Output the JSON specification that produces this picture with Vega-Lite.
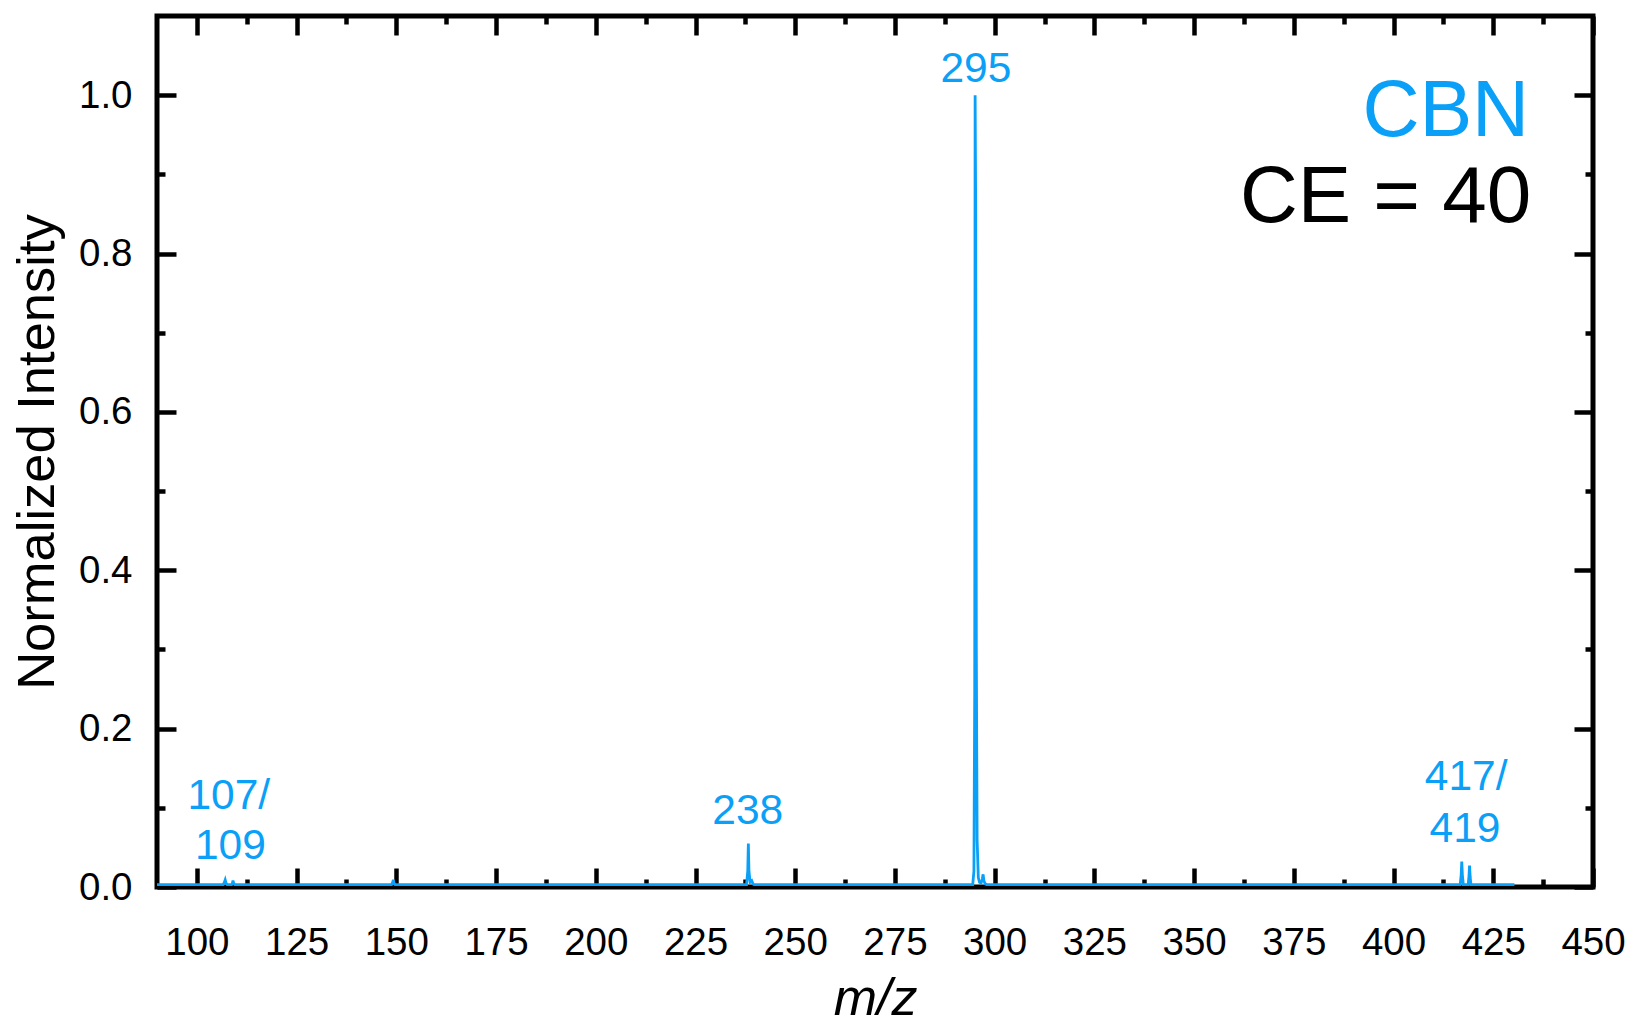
{
  "$schema": "https://vega.github.io/schema/vega-lite/v6.json",
  "width": 1436,
  "height": 871,
  "autosize": {"type": "none"},
  "padding": {"left": 157, "top": 16, "right": 38, "bottom": 138},
  "background": "white",
  "config": {
    "font": "Liberation Sans",
    "view": {"stroke": "black", "strokeWidth": 5},
    "axis": {
      "domain": false,
      "grid": false,
      "tickColor": "black",
      "tickWidth": 4.5,
      "labelColor": "black",
      "labelFont": "Liberation Sans",
      "labelFontSize": 38.5,
      "titleFont": "Liberation Sans",
      "titleColor": "black",
      "titleFontWeight": "normal"
    }
  },
  "datasets": {
    "spectrum": [
      {"mz": 90, "intensity": 0.003},
      {"mz": 106.6, "intensity": 0.003},
      {"mz": 106.9, "intensity": 0.006},
      {"mz": 107.1, "intensity": 0.009},
      {"mz": 107.3, "intensity": 0.005},
      {"mz": 107.6, "intensity": 0.003},
      {"mz": 108.7, "intensity": 0.003},
      {"mz": 108.9, "intensity": 0.005},
      {"mz": 109.05, "intensity": 0.008},
      {"mz": 109.2, "intensity": 0.005},
      {"mz": 109.5, "intensity": 0.003},
      {"mz": 148.8, "intensity": 0.003},
      {"mz": 149.1, "intensity": 0.006},
      {"mz": 149.25, "intensity": 0.009},
      {"mz": 149.4, "intensity": 0.005},
      {"mz": 149.7, "intensity": 0.003},
      {"mz": 237.8, "intensity": 0.003},
      {"mz": 238.1, "intensity": 0.02},
      {"mz": 238.25, "intensity": 0.055},
      {"mz": 238.4, "intensity": 0.02},
      {"mz": 238.7, "intensity": 0.006},
      {"mz": 239.1, "intensity": 0.008},
      {"mz": 239.4, "intensity": 0.004},
      {"mz": 239.7, "intensity": 0.003},
      {"mz": 294.5, "intensity": 0.003},
      {"mz": 294.8, "intensity": 0.02},
      {"mz": 295.0, "intensity": 0.25},
      {"mz": 295.1, "intensity": 1.0},
      {"mz": 295.25, "intensity": 0.85},
      {"mz": 295.4, "intensity": 0.3},
      {"mz": 295.6, "intensity": 0.06},
      {"mz": 295.9, "intensity": 0.012},
      {"mz": 296.2, "intensity": 0.006},
      {"mz": 296.6, "intensity": 0.005},
      {"mz": 296.9, "intensity": 0.01},
      {"mz": 297.1, "intensity": 0.016},
      {"mz": 297.3, "intensity": 0.008},
      {"mz": 297.6, "intensity": 0.004},
      {"mz": 298.0, "intensity": 0.003},
      {"mz": 416.7, "intensity": 0.003},
      {"mz": 416.95, "intensity": 0.015},
      {"mz": 417.1, "intensity": 0.032},
      {"mz": 417.25, "intensity": 0.015},
      {"mz": 417.5, "intensity": 0.003},
      {"mz": 418.7, "intensity": 0.003},
      {"mz": 418.9, "intensity": 0.013},
      {"mz": 419.05, "intensity": 0.027},
      {"mz": 419.2, "intensity": 0.013},
      {"mz": 419.4, "intensity": 0.003},
      {"mz": 430.3, "intensity": 0.003}
    ],
    "peaks": [
      {"mz": 295.3, "intensity": 1.017, "label": "295"},
      {"mz": 238.1, "intensity": 0.08, "label": "238"},
      {"mz": 108.0, "intensity": 0.099, "label": "107/"},
      {"mz": 108.4, "intensity": 0.035, "label": "109"},
      {"mz": 418.2, "intensity": 0.122, "label": "417/"},
      {"mz": 417.9, "intensity": 0.057, "label": "419"}
    ],
    "compound": [{"mz": 434.0, "intensity": 0.949, "label": "CBN"}],
    "energy": [{"mz": 434.5, "intensity": 0.84, "label": "CE = 40"}]
  },
  "layer": [
    {
      "data": {"name": "spectrum"},
      "mark": {"type": "line", "color": "#0AA0F7", "strokeWidth": 2.8},
      "encoding": {
        "x": {
          "field": "mz", "type": "quantitative",
          "scale": {"domain": [90, 450], "nice": false, "zero": false},
          "axis": {
            "orient": "bottom",
            "values": [100,112.5,125,137.5,150,162.5,175,187.5,200,212.5,225,237.5,250,262.5,275,287.5,300,312.5,325,337.5,350,362.5,375,387.5,400,412.5,425,437.5,450],
            "labelExpr": "datum.value % 25 === 0 ? '' + datum.value : ''",
            "tickSize": {"condition": {"test": "datum.value % 25 !== 0", "value": -8}, "value": -19},
            "labelPadding": 56,
            "labelFlush": false,
            "title": "m/z",
            "titleFontStyle": "italic",
            "titleFontSize": 52,
            "titlePadding": 12
          }
        },
        "y": {
          "field": "intensity", "type": "quantitative",
          "scale": {"domain": [0, 1.1], "nice": false},
          "axis": {
            "orient": "left",
            "values": [0,0.1,0.2,0.3,0.4,0.5,0.6,0.7,0.8,0.9,1.0],
            "labelExpr": "round(datum.value*10) % 2 === 0 ? format(datum.value, '.1f') : ''",
            "tickSize": {"condition": {"test": "round(datum.value*10) % 2 === 1", "value": -8}, "value": -19},
            "labelPadding": 44,
            "labelFlush": false,
            "title": "Normalized Intensity",
            "titleFontSize": 52.5,
            "titlePadding": 14
          }
        }
      }
    },
    {
      "data": {"name": "peaks"},
      "mark": {"type": "text", "color": "#0AA0F7", "fontSize": 42.5, "font": "Liberation Sans", "align": "center", "baseline": "alphabetic"},
      "encoding": {
        "x": {
          "field": "mz", "type": "quantitative",
          "axis": {
            "orient": "top",
            "values": [100,112.5,125,137.5,150,162.5,175,187.5,200,212.5,225,237.5,250,262.5,275,287.5,300,312.5,325,337.5,350,362.5,375,387.5,400,412.5,425,437.5,450],
            "labels": false,
            "tickSize": {"condition": {"test": "datum.value % 25 !== 0", "value": -8}, "value": -19},
            "title": null
          }
        },
        "y": {
          "field": "intensity", "type": "quantitative",
          "axis": {
            "orient": "right",
            "values": [0,0.1,0.2,0.3,0.4,0.5,0.6,0.7,0.8,0.9,1.0],
            "labels": false,
            "tickSize": {"condition": {"test": "round(datum.value*10) % 2 === 1", "value": -8}, "value": -19},
            "title": null
          }
        },
        "text": {"field": "label", "type": "nominal"}
      }
    },
    {
      "data": {"name": "compound"},
      "mark": {"type": "text", "color": "#0AA0F7", "fontSize": 79, "font": "Liberation Sans", "align": "right", "baseline": "alphabetic"},
      "encoding": {
        "x": {"field": "mz", "type": "quantitative", "axis": null},
        "y": {"field": "intensity", "type": "quantitative", "axis": null},
        "text": {"field": "label", "type": "nominal"}
      }
    },
    {
      "data": {"name": "energy"},
      "mark": {"type": "text", "color": "black", "fontSize": 80, "font": "Liberation Sans", "align": "right", "baseline": "alphabetic"},
      "encoding": {
        "x": {"field": "mz", "type": "quantitative", "axis": null},
        "y": {"field": "intensity", "type": "quantitative", "axis": null},
        "text": {"field": "label", "type": "nominal"}
      }
    }
  ],
  "resolve": {"axis": {"x": "independent", "y": "independent"}}
}
